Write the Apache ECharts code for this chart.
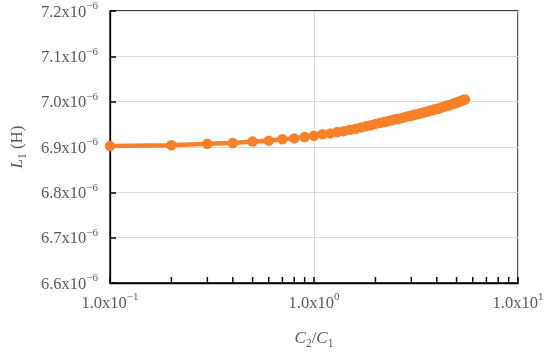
<!DOCTYPE html>
<html>
<head>
<meta charset="utf-8">
<script src="https://cdn.jsdelivr.net/npm/echarts@6/dist/echarts.min.js"></script>
<style>html,body{margin:0;padding:0;background:#fff;}#c{width:550px;height:352px;}</style>
</head>
<body>
<div id="c"></div>
<script>
// C2/C1 ratio
const ratio = [0.1,0.2,0.3,0.4,0.5,0.6,0.7,0.8,0.9,1.0,
  1.1,1.2,1.3,1.4,1.5,1.6,1.7,1.8,1.9,2.0,
  2.1,2.2,2.3,2.4,2.5,2.6,2.7,2.8,2.9,3.0,
  3.1,3.2,3.3,3.4,3.5,3.6,3.7,3.8,3.9,4.0,
  4.1,4.2,4.3,4.4,4.5,4.6,4.7,4.8,4.9,5.0,
  5.1,5.2,5.3,5.4,5.5];
// L1 (H)
const L1 = [6.902e-6,6.904e-6,6.907e-6,6.909e-6,6.912e-6,6.914e-6,6.917e-6,6.919e-6,6.922e-6,6.925e-6,
  6.928e-6,6.930e-6,6.933e-6,6.935e-6,6.938e-6,6.940e-6,6.943e-6,6.946e-6,6.948e-6,6.951e-6,
  6.953e-6,6.955e-6,6.957e-6,6.959e-6,6.961e-6,6.962e-6,6.964e-6,6.966e-6,6.968e-6,6.969e-6,
  6.971e-6,6.972e-6,6.974e-6,6.975e-6,6.977e-6,6.978e-6,6.980e-6,6.981e-6,6.983e-6,6.984e-6,
  6.985e-6,6.987e-6,6.988e-6,6.990e-6,6.991e-6,6.992e-6,6.994e-6,6.995e-6,6.997e-6,6.998e-6,
  6.999e-6,7.001e-6,7.002e-6,7.004e-6,7.005e-6];
// axis settings
const xMin = 0.1, xMax = 10;
const yMin = 6.6e-6, yMax = 7.2e-6, yStep = 1e-7;
// log-axis minor tick positions
const minorTickX = [0.2,0.3,0.4,0.5,0.6,0.7,0.8,0.9,2,3,4,5,6,7,8,9];

const gray = '#595959';
const orange = '#F7812B';
const serif = '"Liberation Serif", "Times New Roman", serif';

const chart = echarts.init(document.getElementById('c'));
const labelRich = {
  b: {fontFamily: serif, fontSize: 16.5, color: gray, verticalAlign: 'bottom', lineHeight: 20},
  s: {fontFamily: serif, fontSize: 11, color: gray, verticalAlign: 'top', lineHeight: 11}
};
function sci(v, exp) {
  return '{b|' + v + 'x10}{s|' + exp + '}';
}
const nameRich = {
  i: {fontFamily: serif, fontStyle: 'italic', fontSize: 17, color: gray, verticalAlign: 'top', lineHeight: 20},
  n: {fontFamily: serif, fontSize: 17, color: gray, verticalAlign: 'top', lineHeight: 20},
  sub: {fontFamily: serif, fontSize: 11.5, color: gray, verticalAlign: 'bottom', lineHeight: 13}
};
chart.setOption({
  animation: false,
  grid: {left: 110, right: 32, top: 11, bottom: 69, outerBoundsMode: 'none', z: 0,
    show: true, borderColor: '#000', borderWidth: 1.3, backgroundColor: 'transparent'},
  xAxis: {
    type: 'log', logBase: 10, min: xMin, max: xMax,
    name: '{i|C}{sub|2}{n|/}{i|C}{sub|1}',
    nameLocation: 'middle', nameGap: 47,
    nameTextStyle: {rich: nameRich},
    axisLine: {show: true, lineStyle: {color: '#000', width: 1.3}},
    axisTick: {show: true, inside: true, length: 6, lineStyle: {color: '#000', width: 1.5}},
    splitLine: {show: true, lineStyle: {color: '#d9d9d9', width: 1}},
    axisLabel: {
      margin: 9,
      formatter: function (v) {
        const e = Math.round(Math.log10(v));
        return sci('1.0', e < 0 ? '\u2212' + (-e) : String(e));
      },
      rich: labelRich
    }
  },
  yAxis: {
    type: 'value', min: yMin, max: yMax, interval: yStep,
    name: '{i|L}{sub|1}{n| (H)}',
    nameLocation: 'middle', nameGap: 81, nameRotate: 90,
    nameTextStyle: {rich: nameRich},
    axisLine: {show: true, lineStyle: {color: '#000', width: 1.3}},
    axisTick: {show: true, inside: true, length: 6, lineStyle: {color: '#000', width: 1.5}},
    splitLine: {show: true, lineStyle: {color: '#d9d9d9', width: 1}},
    axisLabel: {
      margin: 12,
      formatter: function (v) {
        return sci((v / 1e-6).toFixed(1), '\u22126');
      },
      rich: labelRich
    }
  },
  series: [
    {
      type: 'line',
      data: ratio.map((x, i) => [x, L1[i]]),
      symbol: 'circle', symbolSize: 10.5, showSymbol: true,
      lineStyle: {color: orange, width: 4.5},
      itemStyle: {color: orange},
      clip: false, z: 5
    },
    {
      type: 'custom', clip: false, z: 10,
      data: minorTickX.map(x => [x, yMin]),
      renderItem: function (params, api) {
        const p = api.coord([api.value(0), api.value(1)]);
        return {type: 'line', shape: {x1: p[0], y1: p[1], x2: p[0], y2: p[1] - 6},
          style: {stroke: '#000', lineWidth: 1.5}};
      }
    }
  ]
});
</script>
</body>
</html>
